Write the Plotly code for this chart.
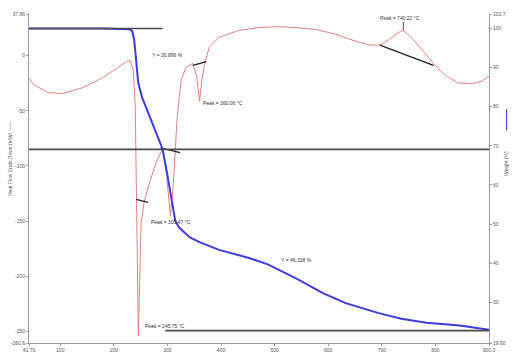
import plotly.graph_objects as go

# Axis ranges
T_MIN, T_MAX = 41.7, 900.0
HF_MIN, HF_MAX = -260.6, 37.86
WT_MIN, WT_MAX = 19.6, 103.7

# DSC heat flow (mW) vs temperature (°C)
dsc_temp = [41.7, 50.9, 78.2, 105.5, 141.8, 178.2, 205.5, 223.6, 230.9, 236.4, 240.0,
            242.7, 245.75, 248.2, 250.9, 256.4, 265.5, 278.2, 290.9, 298.2, 305.47,
            310.9, 318.2, 325.5, 334.5, 347.3, 354.5, 360.06, 363.6, 369.1, 378.2,
            396.4, 432.7, 469.1, 505.5, 541.8, 578.2, 614.5, 650.9, 678.2, 696.4,
            714.5, 730.9, 740.22, 750.9, 769.1, 796.4, 818.2, 841.8, 869.1, 887.3, 900.0]
dsc_heat = [-20.5, -26.4, -33.5, -34.3, -29.0, -20.2, -11.4, -5.3, -4.4, -13.2, -46.7,
            -143.5, -254.4, -205.0, -152.3, -133.0, -117.0, -97.7, -84.5, -106.5, -145.2,
            -117.0, -55.5, -22.0, -10.6, -7.0, -18.5, -41.4, -24.6, -7.9, 7.9,
            16.7, 22.9, 25.5, 26.4, 25.5, 23.8, 19.4, 13.2, 9.7, 9.7,
            15.0, 21.1, 22.9, 18.5, 8.8, -7.0, -17.6, -24.6, -25.5, -22.9, -18.5]

# TGA weight (%) vs temperature (°C)
tga_temp = [41.7, 178.2, 229.1, 234.5, 238.2, 241.8, 245.5, 252.7, 260.0, 274.5, 290.9,
            300.0, 309.1, 314.5, 321.8, 329.1, 341.8, 360.0, 396.4, 450.9, 487.3, 541.8,
            590.9, 632.7, 692.7, 736.4, 783.6, 845.5, 887.3, 900.0]
tga_weight = [100.0, 100.0, 99.8, 99.3, 96.8, 91.1, 86.1, 82.4, 79.9, 74.9, 69.2,
              62.5, 55.8, 50.9, 49.1, 48.1, 46.6, 45.4, 43.4, 41.4, 39.7, 36.0,
              32.3, 29.8, 27.3, 25.8, 24.8, 24.1, 23.3, 23.0]

# Weight-loss steps (%)
step_losses = [30.896, 46.328]
level_0 = 100.0
level_1 = level_0 - step_losses[0]
level_2 = level_1 - step_losses[1]
step_lines = [
    ([T_MIN, 290.9], [level_0, level_0]),
    ([T_MIN, T_MAX], [level_1, level_1]),
    ([296.0, T_MAX], [level_2, level_2]),
]

# DSC peak baselines (temperature pairs, heat-flow pairs)
dsc_baselines = [
    ([241.8, 263.6], [-130.3, -133.0]),
    ([287.3, 323.6], [-83.6, -88.0]),
    ([347.3, 372.7], [-8.8, -5.3]),
    ([696.4, 796.4], [9.7, -8.8]),
]

# Peak temperatures (°C)
peak_temps = [245.75, 305.47, 360.06, 740.22]

x_ticks = [T_MIN, 100, 200, 300, 400, 500, 600, 700, 800, T_MAX]
x_tick_text = ["41.70", "100", "200", "300", "400", "500", "600", "700", "800", "900.0"]
hf_ticks = [HF_MIN, -250, -200, -150, -100, -50, 0, HF_MAX]
hf_tick_text = ["-260.6", "-250", "-200", "-150", "-100", "-50", "0", "37.86"]
wt_ticks = [WT_MIN, 30, 40, 50, 60, 70, 80, 90, 100, WT_MAX]
wt_tick_text = ["19.60", "30", "40", "50", "60", "70", "80", "90", "100", "103.7"]

fig = go.Figure()

fig.add_trace(go.Scatter(x=dsc_temp, y=dsc_heat, mode="lines",
                         line=dict(color="#e68080", width=1), yaxis="y"))
fig.add_trace(go.Scatter(x=tga_temp, y=tga_weight, mode="lines",
                         line=dict(color="#3d3dda", width=2), yaxis="y2"))

for xs, ys in step_lines:
    fig.add_trace(go.Scatter(x=xs, y=ys, mode="lines",
                             line=dict(color="#4a4a4a", width=1.6), yaxis="y2"))

for xs, ys in dsc_baselines:
    fig.add_trace(go.Scatter(x=xs, y=ys, mode="lines",
                             line=dict(color="#222222", width=1.3), yaxis="y"))

# Peak marker at the high-temperature exotherm
fig.add_trace(go.Scatter(x=[peak_temps[3], peak_temps[3]], y=[22.9, 30.5], mode="lines",
                         line=dict(color="#555555", width=1), yaxis="y"))

label_font = dict(family="Liberation Sans, Arial, sans-serif", size=5, color="#333333")
labels = [
    (692.7, 34.3, f"Peak = {peak_temps[3]:.2f} °C"),
    (268.0, 0.9, f"Y = {step_losses[0]:.3f} %"),
    (361.8, -43.1, f"Peak = {peak_temps[2]:.2f} °C"),
    (265.5, -150.5, f"Peak = {peak_temps[1]:.2f} °C"),
    (509.0, -184.9, f"Y = {step_losses[1]:.3f} %"),
    (254.5, -245.6, f"Peak = {peak_temps[0]:.2f} °C"),
]
annotations = [
    dict(x=x, y=y, xref="x", yref="y", text=t, showarrow=False,
         xanchor="left", yanchor="middle", font=label_font)
    for x, y, t in labels
]

PLOT_W, PLOT_H = 472, 339
axis_font = dict(family="Liberation Sans, Arial, sans-serif", size=5, color="#555555")
annotations += [
    dict(x=-20 / PLOT_W, y=(353 - 163) / PLOT_H, xref="paper", yref="paper",
         xanchor="center", yanchor="middle",
         text="Heat Flow Endo Down (mW) ——", textangle=-90, showarrow=False,
         font=axis_font),
    dict(x=1 + 18 / PLOT_W, y=(353 - 168) / PLOT_H, xref="paper", yref="paper",
         xanchor="center", yanchor="middle",
         text="Weight (%)", textangle=-90, showarrow=False, font=axis_font),
]

shapes = [
    dict(type="line", xref="paper", yref="paper",
         x0=1 + 18 / PLOT_W, x1=1 + 18 / PLOT_W, y0=(353 - 112) / PLOT_H, y1=(353 - 134) / PLOT_H,
         line=dict(color="#4a4ad6", width=1.2)),
]

common_axis = dict(showline=True, linecolor="#9a9a9a", linewidth=1, showgrid=False,
                   zeroline=False, ticks="outside", ticklen=2, tickcolor="#9a9a9a",
                   tickfont=axis_font)

fig.update_layout(
    width=517, height=364,
    margin=dict(l=25, r=20, t=14, b=11),
    paper_bgcolor="white", plot_bgcolor="white",
    showlegend=False,
    xaxis=dict(range=[T_MIN, T_MAX], tickvals=x_ticks, ticktext=x_tick_text, **common_axis),
    yaxis=dict(range=[HF_MIN, HF_MAX], tickvals=hf_ticks, ticktext=hf_tick_text, **common_axis),
    yaxis2=dict(range=[WT_MIN, WT_MAX], tickvals=wt_ticks, ticktext=wt_tick_text,
                overlaying="y", side="right", **common_axis),
    annotations=annotations,
    shapes=shapes,
)

fig.write_html("out.html")
